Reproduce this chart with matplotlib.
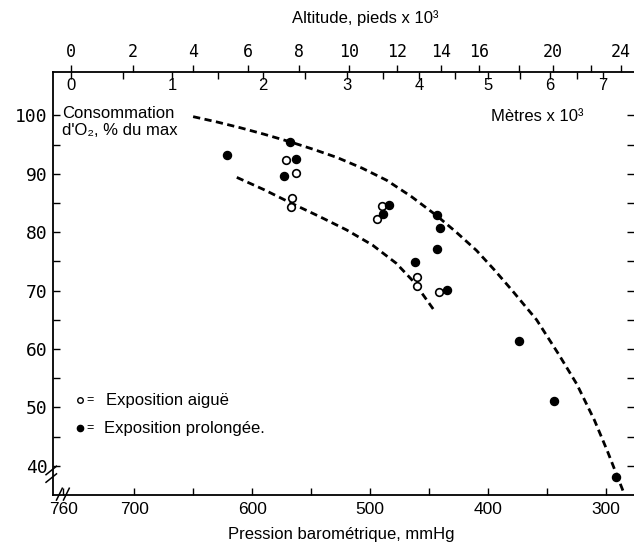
import matplotlib.pyplot as plt
import numpy as np

plt.rcParams['font.family'] = ['Liberation Sans', 'DejaVu Sans']

# Points : pression (mmHg), consommation d'O2 (% du max)
aigue_p = [571, 563, 566, 567, 490, 494, 460, 460, 442]
aigue_v = [92.3, 90.1, 85.8, 84.3, 84.5, 82.2, 72.4, 70.8, 69.8]
prolongee_p = [621, 568, 563, 573, 484, 489, 443, 441, 443, 462, 435, 374, 344, 292]
prolongee_v = [93.3, 95.5, 92.5, 89.6, 84.6, 83.2, 82.9, 80.8, 77.1, 74.9, 70.1, 61.4, 51.1, 38.1]

# courbes en tirets
haut_p = [650, 630, 610, 590, 568, 548, 528, 507, 486, 465, 444, 427, 410, 395, 380,
          359, 340, 325, 310, 299, 285]
haut_v = [99.8, 98.9, 97.9, 96.8, 95.5, 94.2, 92.8, 91.0, 88.9, 86.1, 82.9, 80.0, 76.9,
          73.6, 70.1, 65.0, 59.0, 54.0, 47.8, 42.5, 35.3]
bas_p = [613, 590, 566, 543, 520, 498, 478, 463, 445]
bas_v = [89.4, 87.3, 84.9, 82.7, 80.4, 77.8, 74.7, 71.5, 66.4]

# axes
pression_major = [760, 700, 600, 500, 400, 300]
pression_minor = [650, 550, 450, 350]
conso_major = [40, 50, 60, 70, 80, 90, 100]
conso_minor = [45, 55, 65, 75, 85, 95]

# echelle du haut (positions en mmHg)
pieds_pos = [753.5, 700.9, 650.1, 603.5, 560.3, 517.9, 477.2, 439.9, 407.7, 373.8, 345.0, 312.8, 287.4]
pieds_lab = ['0', '2', '4', '6', '8', '10', '12', '14', '16', '', '20', '', '24']
metres_pos = [753.5, 667.9, 590.8, 519.6, 458.6, 400.1, 347.6, 302.6]
metres_lab = ['0', '1', '2', '3', '4', '5', '6', '7']
metres_demi = [709.4, 628.9, 555.2, 489.1, 428.1, 373.4, 324.6]

W, H = 634, 551
fig = plt.figure(figsize=(W / 100, H / 100), dpi=100)
ax = fig.add_axes([53 / W, 1 - 495 / H, 581 / W, (495 - 71.7) / H])
ax.set_xlim(768.7, 276.5)
ax.set_ylim(35.0, 107.5)

ax.plot(haut_p, haut_v, color='black', lw=2.0, dashes=(2.6, 1.6), clip_on=False)
ax.plot(bas_p, bas_v, color='black', lw=2.0, dashes=(2.6, 1.6))
ax.plot(aigue_p, aigue_v, 'o', mfc='white', mec='black', mew=1.2, ms=5.5, zorder=3)
ax.plot(prolongee_p, prolongee_v, 'o', color='black', ms=5.8, zorder=4, clip_on=False)

ax.set_xticks(pression_major)
ax.set_xticklabels([str(v) for v in pression_major])
ax.set_xticks(pression_minor, minor=True)
ax.set_yticks(conso_major)
ax.set_yticklabels([str(v) for v in conso_major], fontfamily='DejaVu Sans Mono')
ax.set_yticks(conso_minor, minor=True)
ax.tick_params(axis='x', which='both', direction='in', length=5, width=1,
               top=False, labelsize=12.5, pad=5)
ax.tick_params(axis='y', which='both', direction='in', length=5, width=1,
               left=True, right=True, labelsize=13, pad=4)
ax.spines['right'].set_visible(False)
for s in ['left', 'bottom', 'top']:
    ax.spines[s].set_linewidth(1.3)

# altitude en pieds (au-dessus)
axf = ax.twiny()
axf.set_xlim(ax.get_xlim())
axf.set_xticks(pieds_pos)
axf.set_xticklabels(pieds_lab, fontfamily='DejaVu Sans Mono')
axf.tick_params(axis='x', direction='out', length=5, width=1, labelsize=12, pad=3)
for s in axf.spines.values():
    s.set_visible(False)

# altitude en metres (en dessous du trait)
axm = ax.twiny()
axm.set_xlim(ax.get_xlim())
axm.set_xticks(metres_pos)
axm.set_xticklabels(metres_lab)
axm.set_xticks(metres_demi, minor=True)
axm.tick_params(axis='x', which='both', direction='in', length=5, width=1,
                labelsize=12, pad=-15)
for s in axm.spines.values():
    s.set_visible(False)

fig.text(365 / W, 1 - 18 / H, 'Altitude, pieds x 10³', ha='center', va='center', fontsize=12)
fig.text(341 / W, 1 - 535 / H, 'Pression barométrique, mmHg', ha='center', va='center', fontsize=12)
ax.text(0.833, 0.895, 'Mètres x 10³', transform=ax.transAxes, ha='center', va='center', fontsize=12)
ax.text(0.0155, 0.902, 'Consommation', transform=ax.transAxes, ha='left', va='center', fontsize=12)
ax.text(0.0155, 0.862, "d'O₂, % du max", transform=ax.transAxes, ha='left', va='center', fontsize=12)

# legende
ax.plot([0.0465], [0.2244], 'o', mfc='white', mec='black', mew=1.0, ms=4, transform=ax.transAxes)
ax.plot([0.0465], [0.158], 'o', color='black', ms=4.5, transform=ax.transAxes)
ax.text(0.058, 0.2244, '=', transform=ax.transAxes, ha='left', va='center', fontsize=9)
ax.text(0.058, 0.158, '=', transform=ax.transAxes, ha='left', va='center', fontsize=9)
ax.text(0.0912, 0.2244, 'Exposition aiguë', transform=ax.transAxes, ha='left', va='center', fontsize=12)
ax.text(0.088, 0.158, 'Exposition prolongée.', transform=ax.transAxes, ha='left', va='center', fontsize=12)

# coupures d'axe
for dy in (0.0, 0.018):
    ax.plot([-0.012, 0.006], [0.03 + dy, 0.05 + dy], color='black', lw=1.1,
            transform=ax.transAxes, clip_on=False)
for dx in (0.0, 0.012):
    ax.plot([0.006 + dx, 0.016 + dx], [-0.012, 0.016], color='black', lw=1.1,
            transform=ax.transAxes, clip_on=False)

fig.savefig('out.png', dpi=100)
